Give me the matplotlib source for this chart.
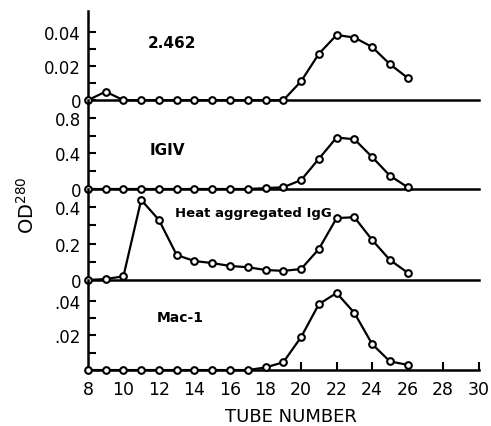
import numpy as np
import matplotlib
matplotlib.use("Agg")
from matplotlib import pyplot as plt

tubes = list(range(8, 27))

od_2462 = [0, 0.005, 0, 0, 0, 0, 0, 0, 0, 0, 0, 0,
           0.011, 0.027, 0.038, 0.0365, 0.031, 0.021, 0.013]
od_igiv = [0, 0, 0, 0, 0, 0, 0, 0, 0, 0, 0.01, 0.02,
           0.10, 0.34, 0.58, 0.56, 0.36, 0.15, 0.02]
od_heat = [0, 0.005, 0.02, 0.44, 0.33, 0.137, 0.104, 0.093, 0.077, 0.07, 0.055, 0.05,
           0.06, 0.17, 0.34, 0.345, 0.22, 0.11, 0.04]
od_mac1 = [0, 0, 0, 0, 0, 0, 0, 0, 0, 0, 0.0015, 0.0045,
           0.019, 0.038, 0.0445, 0.033, 0.015, 0.005, 0.003]

panel_names = ["2.462", "IGIV", "Heat aggregated IgG", "Mac-1"]
panel_data = [od_2462, od_igiv, od_heat, od_mac1]
y_tops = [0.052, 1.0, 0.5, 0.052]
major_ticks = [[0, 0.02, 0.04], [0, 0.4, 0.8], [0, 0.2, 0.4], [0.02, 0.04]]
major_labels = [["0", "0.02", "0.04"], ["0", "0.4", "0.8"], ["0", "0.2", "0.4"], [".02", ".04"]]
minor_ticks = [[0.01, 0.03], [0.2, 0.6], [0.1, 0.3], [0.01, 0.03]]
x_ticks = list(range(8, 31, 2))

plt.rcParams['font.family'] = ['DejaVu Sans']
fig = plt.figure(figsize=(4.91, 4.27), dpi=100)

left, width = 0.179, 0.796
bounds = [(0.763, 0.209), (0.555, 0.208), (0.342, 0.213), (0.131, 0.211)]
label_pos = [(0.153, 0.65), (0.159, 0.44), (0.222, 0.74), (0.176, 0.59)]
label_size = [11, 11, 9.5, 10]

for i, (bottom, height) in enumerate(bounds):
    ax = fig.add_axes([left, bottom, width, height])
    ax.plot(tubes, panel_data[i], color="black", lw=1.6, marker="o", ms=4.8,
            mfc="white", mec="black", mew=1.5, clip_on=False, zorder=3)
    ax.set_xlim(8, 30)
    ax.set_ylim(0, y_tops[i])
    for s in ["top", "right"]:
        ax.spines[s].set_visible(False)
    for s in ["left", "bottom"]:
        ax.spines[s].set_linewidth(1.8)
    ax.set_yticks(major_ticks[i])
    ax.set_yticklabels(major_labels[i])
    ax.set_yticks(minor_ticks[i], minor=True)
    ax.tick_params(axis="y", which="both", direction="in", length=6, width=1.5,
                   labelsize=12, pad=5)
    ax.text(label_pos[i][0], label_pos[i][1], panel_names[i], transform=ax.transAxes,
            fontsize=label_size[i], fontweight="bold", va="center")
    if i < 3:
        ax.set_xticks([])
    else:
        ax.set_xticks(x_ticks)
        ax.tick_params(axis="x", direction="in", length=6, width=1.5,
                       labelsize=12.5, pad=7)
        # tick marks only drawn past the flat baseline run
        for loc, tick in zip(x_ticks, ax.xaxis.get_major_ticks()):
            if loc < 20:
                tick.tick1line.set_visible(False)
        ax.set_xlabel("TUBE NUMBER", fontsize=13)
        ax.xaxis.set_label_coords(0.52, -0.41)
    ax.patch.set_alpha(0)

fig.text(0.055, 0.52, "OD$^{280}$", rotation=90, fontsize=14, ha="center", va="center")

fig.savefig("out.png", dpi=100)
